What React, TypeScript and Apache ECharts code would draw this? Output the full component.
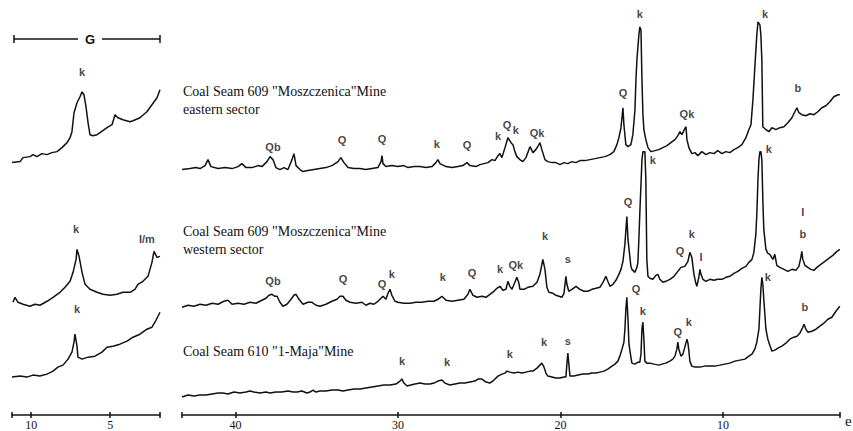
import React, { useEffect, useRef } from 'react';
import * as echarts from 'echarts';

// ---- Main diffractograms: [2θ, intensity above the trace start] ----
const EASTERN: [number, number][] = [
[43.30,0],[42.81,1],[42.44,2],[42.19,1],[41.88,4],[41.70,10],[41.52,3],[41.08,1],[40.65,2],[40.22,1],[39.85,3],[39.61,6],[39.36,2],[38.99,2],[38.62,4],[38.38,3],[38.07,8],[37.88,13],[37.70,10],[37.52,2],[37.27,0],[37.02,2],[36.78,0],[36.53,10],[36.41,16],[36.28,4],[36.04,0],[35.85,-2],[35.55,-1],[35.18,0],[34.81,1],[34.44,2],[34.07,4],[33.70,8],[33.52,12],[33.33,7],[33.08,2],[32.72,1],[32.35,1],[31.98,0],[31.61,1],[31.24,2],[31.05,8],[30.99,14],[30.93,6],[30.75,3],[30.38,4],[30.01,3],[29.64,4],[29.39,2],[29.02,3],[28.65,3],[28.28,2],[27.92,3],[27.67,7],[27.55,10],[27.42,6],[27.05,3],[26.69,2],[26.32,3],[26.01,4],[25.76,7],[25.58,4],[25.21,3],[24.96,5],[24.72,6],[24.47,7],[24.22,10],[24.04,9],[23.85,14],[23.73,16],[23.61,12],[23.42,22],[23.24,32],[23.05,27],[22.93,25],[22.81,18],[22.69,13],[22.50,10],[22.32,8],[22.13,12],[21.95,20],[21.88,23],[21.70,17],[21.52,20],[21.33,25],[21.27,27],[21.15,20],[20.96,10],[20.78,8],[20.53,7],[20.29,7],[20.04,5],[19.79,7],[19.55,6],[19.30,8],[19.05,7],[18.81,9],[18.50,9],[18.19,10],[17.88,11],[17.58,12],[17.27,13],[16.96,15],[16.72,18],[16.53,25],[16.41,32],[16.28,42],[16.16,62],[16.10,45],[15.98,25],[15.85,23],[15.67,25],[15.55,35],[15.42,60],[15.36,90],[15.30,110],[15.18,135],[15.12,143],[15.05,140],[14.99,90],[14.93,55],[14.87,40],[14.75,30],[14.62,22],[14.44,18],[14.19,19],[13.95,20],[13.70,22],[13.45,24],[13.21,27],[12.96,30],[12.78,34],[12.65,38],[12.53,35],[12.41,39],[12.28,43],[12.22,30],[12.10,22],[11.92,16],[11.73,17],[11.55,14],[11.30,18],[11.05,15],[10.81,17],[10.56,16],[10.32,19],[10.07,16],[9.82,18],[9.58,17],[9.33,20],[9.09,22],[8.84,25],[8.59,32],[8.41,40],[8.28,45],[8.16,70],[8.04,103],[7.92,135],[7.85,148],[7.73,145],[7.67,135],[7.61,110],[7.55,43],[7.36,40],[7.18,38],[6.99,42],[6.75,40],[6.50,42],[6.25,43],[6.01,47],[5.76,52],[5.58,58],[5.45,62],[5.33,57],[5.15,55],[4.90,54],[4.65,56],[4.41,55],[4.16,58],[3.92,62],[3.67,64],[3.42,68],[3.18,73],[2.93,75],[2.81,75]];

const WESTERN: [number, number][] = [
[43.30,0],[42.93,2],[42.56,1],[42.19,3],[41.82,2],[41.45,4],[41.08,3],[40.72,6],[40.47,7],[40.22,3],[39.85,4],[39.48,3],[39.12,5],[38.75,4],[38.38,7],[38.13,9],[37.95,12],[37.76,13],[37.58,11],[37.45,11],[37.27,5],[37.09,1],[36.84,3],[36.59,8],[36.41,12],[36.28,13],[36.10,8],[35.85,3],[35.55,5],[35.30,5],[35.05,2],[34.81,1],[34.44,3],[34.07,6],[33.76,8],[33.58,11],[33.39,11],[33.21,7],[32.96,5],[32.59,4],[32.22,5],[31.98,2],[31.73,4],[31.49,3],[31.24,6],[31.05,9],[30.93,11],[30.75,8],[30.62,14],[30.50,18],[30.38,12],[30.19,6],[30.01,5],[29.64,4],[29.27,4],[28.90,5],[28.53,5],[28.16,6],[27.79,6],[27.55,8],[27.30,11],[27.05,7],[26.69,6],[26.32,7],[25.95,8],[25.70,13],[25.58,18],[25.39,12],[25.15,10],[24.84,11],[24.59,10],[24.35,13],[24.10,16],[23.92,19],[23.73,21],[23.55,17],[23.36,18],[23.24,26],[23.12,21],[22.99,18],[22.81,25],[22.69,30],[22.56,24],[22.50,18],[22.25,18],[22.01,20],[21.70,21],[21.45,25],[21.27,33],[21.09,48],[20.96,38],[20.84,20],[20.72,15],[20.47,14],[20.29,12],[20.10,11],[19.92,10],[19.79,14],[19.67,31],[19.61,23],[19.49,16],[19.30,18],[19.05,21],[18.81,18],[18.56,16],[18.32,16],[18.07,18],[17.82,19],[17.58,20],[17.39,25],[17.21,31],[17.09,26],[16.96,21],[16.78,23],[16.59,27],[16.41,33],[16.28,38],[16.16,46],[16.04,63],[15.92,91],[15.85,68],[15.67,41],[15.61,38],[15.42,35],[15.30,40],[15.24,45],[15.18,68],[15.12,95],[15.05,123],[14.99,148],[14.93,156],[14.81,156],[14.75,128],[14.69,48],[14.62,31],[14.50,29],[14.32,28],[14.13,32],[14.01,33],[13.89,28],[13.70,25],[13.52,26],[13.27,28],[13.02,31],[12.78,36],[12.59,40],[12.35,41],[12.16,46],[12.04,55],[11.92,50],[11.79,33],[11.67,24],[11.61,21],[11.49,30],[11.42,38],[11.36,33],[11.24,28],[11.05,26],[10.81,28],[10.56,27],[10.32,28],[10.07,28],[9.82,30],[9.58,31],[9.33,34],[9.09,36],[8.84,39],[8.59,41],[8.41,45],[8.22,48],[8.10,55],[7.98,73],[7.92,93],[7.85,128],[7.79,148],[7.73,156],[7.67,156],[7.61,148],[7.55,108],[7.49,78],[7.36,58],[7.24,54],[7.12,53],[6.93,48],[6.81,53],[6.69,42],[6.50,40],[6.25,38],[6.01,36],[5.76,38],[5.52,37],[5.33,41],[5.21,50],[5.15,56],[5.09,48],[4.96,42],[4.78,40],[4.59,38],[4.41,37],[4.22,40],[3.98,43],[3.73,46],[3.49,49],[3.24,52],[2.99,56],[2.81,58]];

const MAJA: [number, number][] = [
[43.30,0],[42.93,2],[42.56,1],[42.19,2],[41.82,2],[41.45,3],[41.08,4],[40.78,4],[40.47,3],[40.10,5],[39.73,4],[39.36,5],[39.12,6],[38.87,5],[38.50,4],[38.13,5],[37.88,4],[37.52,5],[37.15,5],[36.78,6],[36.47,5],[36.22,5],[35.92,6],[35.61,4],[35.42,5],[35.24,7],[35.05,5],[34.81,6],[34.44,6],[34.07,7],[33.70,7],[33.39,6],[33.08,7],[32.72,8],[32.35,8],[31.98,9],[31.61,10],[31.24,11],[30.87,12],[30.50,12],[30.13,13],[29.88,16],[29.76,18],[29.64,14],[29.45,11],[29.21,12],[28.96,13],[28.65,14],[28.35,13],[28.04,13],[27.79,14],[27.55,16],[27.30,17],[27.12,14],[26.81,12],[26.50,13],[26.19,14],[25.89,14],[25.58,15],[25.27,16],[25.09,18],[24.84,18],[24.59,15],[24.35,14],[24.10,17],[23.85,21],[23.61,23],[23.42,24],[23.30,26],[23.12,25],[22.87,24],[22.62,25],[22.38,24],[22.13,25],[21.88,26],[21.70,26],[21.45,29],[21.27,32],[21.15,34],[21.02,30],[20.90,24],[20.78,21],[20.53,20],[20.29,19],[20.04,19],[19.79,20],[19.67,20],[19.61,33],[19.55,44],[19.49,33],[19.42,21],[19.18,21],[18.93,22],[18.62,23],[18.32,23],[18.07,24],[17.82,24],[17.58,25],[17.33,26],[17.09,28],[16.84,31],[16.65,33],[16.47,36],[16.35,41],[16.22,48],[16.10,55],[16.04,68],[15.98,88],[15.92,100],[15.85,78],[15.79,53],[15.67,40],[15.61,34],[15.42,33],[15.24,35],[15.12,35],[15.05,43],[14.99,68],[14.93,75],[14.87,58],[14.81,36],[14.69,34],[14.50,34],[14.25,33],[13.95,32],[13.76,33],[13.52,34],[13.27,36],[13.09,38],[12.96,41],[12.84,48],[12.78,55],[12.72,48],[12.59,41],[12.47,43],[12.35,50],[12.22,58],[12.16,54],[12.10,46],[12.04,36],[11.92,31],[11.73,30],[11.42,30],[11.12,31],[10.81,31],[10.50,31],[10.19,32],[9.89,33],[9.58,34],[9.27,36],[8.96,37],[8.65,38],[8.41,41],[8.22,43],[8.04,48],[7.92,55],[7.79,68],[7.73,88],[7.67,108],[7.61,120],[7.55,113],[7.49,98],[7.36,68],[7.24,58],[7.12,52],[6.99,46],[6.81,47],[6.62,49],[6.38,51],[6.13,54],[5.89,58],[5.64,60],[5.45,61],[5.27,64],[5.09,70],[5.02,73],[4.90,68],[4.78,65],[4.53,66],[4.28,68],[4.04,71],[3.79,74],[3.55,78],[3.30,80],[3.05,86],[2.81,91]];

// ---- Glycolated (G) low-angle panel ----
const G_EASTERN: [number, number][] = [
[11.22,0],[10.71,1],[10.52,5],[10.08,6],[9.89,8],[9.64,6],[9.32,9],[9.00,8],[8.69,10],[8.37,11],[8.05,15],[7.73,20],[7.54,25],[7.42,31],[7.29,50],[7.10,60],[6.91,66],[6.78,71],[6.66,68],[6.53,56],[6.40,40],[6.28,28],[6.09,27],[5.83,28],[5.64,30],[5.20,35],[4.88,38],[4.69,48],[4.50,45],[4.19,43],[3.74,41],[3.55,42],[3.11,45],[2.67,51],[2.35,58],[2.03,65],[1.84,73]];
const G_WESTERN: [number, number][] = [
[11.16,0],[11.03,5],[10.84,0],[10.52,-2],[10.08,-4],[9.76,-2],[9.45,-3],[9.00,1],[8.62,5],[8.18,10],[7.86,15],[7.54,21],[7.35,30],[7.16,43],[7.10,53],[6.97,46],[6.78,30],[6.59,18],[6.28,13],[5.83,10],[5.45,8],[5.01,7],[4.57,8],[4.19,10],[3.74,10],[3.43,13],[3.24,18],[2.92,21],[2.60,26],[2.35,40],[2.22,51],[2.03,45],[1.84,46]];
const G_MAJA: [number, number][] = [
[11.22,0],[10.71,1],[10.27,0],[9.89,2],[9.45,1],[9.00,3],[8.62,6],[8.31,10],[7.99,12],[7.67,18],[7.42,25],[7.29,35],[7.23,43],[7.10,31],[7.04,20],[6.78,18],[6.40,20],[5.96,21],[5.52,25],[5.20,30],[4.82,31],[4.38,33],[3.93,36],[3.55,40],[3.11,43],[2.67,48],[2.35,50],[2.16,55],[1.84,65]];

// stacking offsets of the three samples
const OFFSET_EASTERN = 246;
const OFFSET_WESTERN = 108;
const OFFSET_MAJA = 18;
const G_OFFSET_EASTERN = 253;
const G_OFFSET_WESTERN = 113;
const G_OFFSET_MAJA = 38;

// peak annotations [label, 2θ, level]
const EASTERN_PEAKS: [string, number, number][] = [['Qb',37.70,269],['Q',33.45,276],['Q',30.99,277],['k',27.61,272],['Q',25.76,271],['k',23.85,280],['Q',23.30,291],['k',22.75,286],['Qk',21.45,283],['Q',16.16,323],['k',15.12,402],['Qk',12.22,302],['k',7.42,402],['b',5.39,328]];
const WESTERN_PEAKS: [string, number, number][] = [['Qb',37.70,134],['Q',33.39,136],['Q',30.99,131],['k',30.38,141],['k',27.24,138],['Q',25.45,142],['k',23.73,146],['Qk',22.75,150],['k',20.96,179],['s',19.55,156],['Q',15.85,214],['k',14.32,256],['Q',12.65,164],['k',11.92,181],['I',11.36,158],['k',7.18,267],['I',5.09,203],['b',5.09,181]];
const MAJA_PEAKS: [string, number, number][] = [['k',29.76,54],['k',26.99,53],['k',23.12,61],['k',21.02,73],['s',19.55,74],['Q',15.36,126],['k',14.93,104],['Q',12.78,83],['k',12.10,93],['k',7.24,138],['b',4.96,108]];
const G_PEAKS: [string, number, number][] = [['k',6.78,344],['k',7.16,186],['I/m',2.67,176],['k',7.10,106]];

const MAIN_TICKS = [10, 20, 30, 40];
const G_TICKS = [5, 10];
const MAIN_MIN = 2.8, MAIN_MAX = 43.3;
const G_MIN = 1.84, G_MAX = 11.22;

const SAMPLE_NAMES = [
  ['Coal Seam 609 "Moszczenica"Mine', 'eastern sector'],
  ['Coal Seam 609 "Moszczenica"Mine', 'western sector'],
  ['Coal Seam 610 "1-Maja"Mine'],
];

const SERIF = '"Liberation Serif", "Times New Roman", serif';
const SANS = '"Liberation Sans", Arial, sans-serif';
const INK = '#111111';

function shift(arr: [number, number][], off: number) {
  return arr.map(([x, y]) => [x, y + off]);
}

function traceSeries(data: [number, number][], off: number, idx: number) {
  return {
    type: 'line', xAxisIndex: idx * 2, yAxisIndex: idx, data: shift(data, off),
    showSymbol: false, symbol: 'none', silent: true,
    lineStyle: { color: INK, width: 1.5 },
  };
}

function labelSeries(peaks: [string, number, number][], idx: number) {
  return {
    type: 'scatter', xAxisIndex: idx * 2, yAxisIndex: idx, symbolSize: 1, silent: true,
    itemStyle: { color: 'rgba(0,0,0,0)' },
    data: peaks.map(([t, x, y]) => ({ name: t, value: [x, y] })),
    label: {
      show: true, position: 'inside', formatter: (p: any) => p.name, color: INK,
      fontFamily: SANS, fontWeight: 'bold', fontSize: 11, textBorderWidth: 0, textBorderColor: 'transparent',
    },
  };
}

function xAxes(grid: number, min: number, max: number, ticks: number[], labels: number[]) {
  const lineStyle = { color: INK, width: 1.5 };
  return [
    {
      gridIndex: grid, type: 'value', inverse: true, min, max, position: 'bottom',
      axisLine: { show: true, lineStyle },
      axisTick: { show: true, length: 3, inside: false, customValues: [min, ...ticks, max], lineStyle },
      axisLabel: { show: true, customValues: labels, color: INK, fontFamily: SERIF, fontSize: 12, margin: 4 },
      splitLine: { show: false },
    },
    {
      gridIndex: grid, type: 'value', inverse: true, min, max, position: 'bottom',
      axisLine: { show: false },
      axisTick: { show: true, length: 3, inside: true, customValues: [min, ...ticks, max], lineStyle },
      axisLabel: { show: false },
      splitLine: { show: false },
    },
  ];
}

export default function App() {
  const ref = useRef<HTMLDivElement>(null);
  useEffect(() => {
    const chart = echarts.init(ref.current!, null, { renderer: 'svg' });
    const names: any[] = [];
    const nameY = [[91, 109], [231, 249], [351]];
    SAMPLE_NAMES.forEach((lines, i) => lines.forEach((t, j) => names.push({
      type: 'text', x: 183, y: nameY[i][j],
      style: { text: t, fill: INK, font: `14px ${SERIF}`, textAlign: 'left', textVerticalAlign: 'middle', align: 'left', verticalAlign: 'middle' },
    })));
    const lineSt = { stroke: INK, lineWidth: 1.5 };
    chart.setOption({
      animation: false,
      backgroundColor: '#ffffff',
      grid: [
        { left: 12, top: 0, width: 148, height: 416 },
        { left: 182, top: 0, width: 658, height: 416 },
      ],
      xAxis: [...xAxes(0, G_MIN, G_MAX, [5, 10], G_TICKS), ...xAxes(1, MAIN_MIN, MAIN_MAX, MAIN_TICKS, MAIN_TICKS)],
      yAxis: [
        { gridIndex: 0, type: 'value', min: 0, max: 416, show: false },
        { gridIndex: 1, type: 'value', min: 0, max: 416, show: false },
      ],
      series: [
        traceSeries(G_EASTERN, G_OFFSET_EASTERN, 0),
        traceSeries(G_WESTERN, G_OFFSET_WESTERN, 0),
        traceSeries(G_MAJA, G_OFFSET_MAJA, 0),
        traceSeries(EASTERN, OFFSET_EASTERN, 1),
        traceSeries(WESTERN, OFFSET_WESTERN, 1),
        traceSeries(MAJA, OFFSET_MAJA, 1),
        labelSeries(G_PEAKS, 0),
        labelSeries(EASTERN_PEAKS, 1),
        labelSeries(WESTERN_PEAKS, 1),
        labelSeries(MAJA_PEAKS, 1),
      ],
      graphic: [
        { type: 'line', shape: { x1: 14, y1: 39, x2: 78, y2: 39 }, style: lineSt },
        { type: 'line', shape: { x1: 102, y1: 39, x2: 160, y2: 39 }, style: lineSt },
        { type: 'line', shape: { x1: 14, y1: 35, x2: 14, y2: 43 }, style: lineSt },
        { type: 'line', shape: { x1: 160, y1: 35, x2: 160, y2: 43 }, style: lineSt },
        { type: 'text', x: 90, y: 39, style: { text: 'G', fill: INK, font: `bold 13px ${SANS}`, textAlign: 'center', textVerticalAlign: 'middle', align: 'center', verticalAlign: 'middle' } },
        { type: 'text', x: 845, y: 421, style: { text: 'e', fill: INK, font: `15px ${SERIF}`, textAlign: 'left', textVerticalAlign: 'middle', align: 'left', verticalAlign: 'middle' } },
        ...names,
      ],
    });
    return () => chart.dispose();
  }, []);
  return <div ref={ref} style={{ position: 'fixed', left: 0, top: 0, width: 853, height: 431, background: '#fff' }} />;
}
